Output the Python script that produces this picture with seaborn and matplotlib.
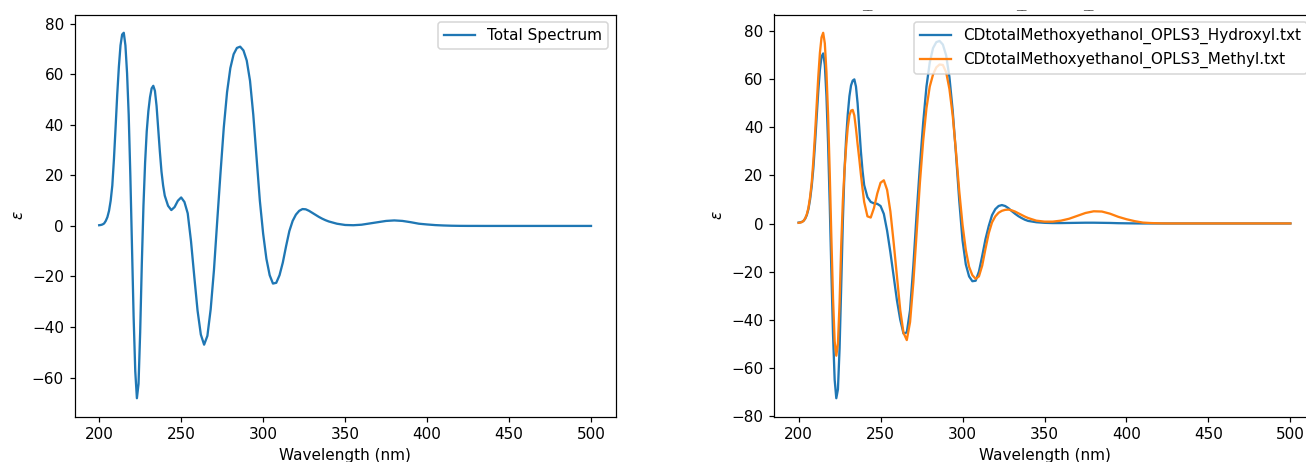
import numpy as np
import matplotlib
matplotlib.use("Agg")
import matplotlib.pyplot as plt
import seaborn as sns

# Wavelength grid (nm)
wavelength = (list(range(200, 241, 1)) + list(range(242, 341, 2)) + list(range(345, 501, 5)))

total_spectrum = [
    0.3, 0.4, 0.6, 1.0, 2.0, 3.5, 6.0, 10.0, 16.0, 26.5,
    39.0, 52.0, 63.0, 71.5, 75.8, 76.5, 71.5, 60.5, 44.0, 20.0,
    -8.0, -36.0, -57.5, -68.2, -62.5, -42.0, -15.0, 8.0, 25.0, 37.5,
    45.5, 51.0, 54.5, 55.5, 53.5, 47.5, 38.5, 29.5, 21.5, 16.0,
    12.0,
    8.0, 6.3, 7.5, 10.0, 11.3, 9.5, 5.0, -6.0, -20.0, -33.5,
    -43.0, -47.0, -43.5, -33.0, -17.5, 2.0, 21.0, 39.0, 53.0, 62.5,
    68.0, 70.5, 71.0, 69.5, 65.5, 57.5, 44.0, 27.0, 10.0, -3.0,
    -13.0, -19.5, -22.8, -22.5, -19.5, -14.5, -8.0, -2.0, 2.0, 4.5,
    6.0, 6.7, 6.6, 6.0, 5.2, 4.4, 3.6, 2.9, 2.3, 1.8,
    0.9, 0.4, 0.3, 0.5, 1.0, 1.5, 2.0, 2.2, 2.0, 1.5,
    0.9, 0.6, 0.35, 0.2, 0.1, 0.05, 0.03, 0.03, 0.02, 0.02,
    0.02, 0.02, 0.02, 0.02, 0.02, 0.02, 0.02, 0.02, 0.02, 0.02,
    0.02, 0.02,
]

hydroxyl = [
    0.4, 0.5, 0.7, 1.1, 2.0, 3.5, 6.0, 10.0, 15.5, 23.0,
    33.0, 44.0, 55.0, 64.0, 69.5, 70.8, 66.0, 53.0, 33.0, 8.0,
    -20.0, -46.0, -65.0, -72.7, -69.0, -52.0, -26.0, 1.0, 22.0, 35.5,
    45.5, 53.0, 57.5, 59.5, 60.0, 57.0, 50.0, 40.0, 30.0, 22.0,
    16.0,
    11.0, 9.0, 8.4, 8.2, 7.3, 4.0, -3.0, -12.0, -22.0, -32.0,
    -40.0, -45.8, -45.3, -36.0, -17.5, 4.0, 24.0, 42.0, 57.0, 67.0,
    73.0, 75.5, 76.0, 74.5, 70.0, 61.0, 47.0, 29.0, 9.5, -7.0,
    -17.0, -22.0, -24.0, -23.8, -20.0, -13.5, -6.5, -1.0, 3.5, 6.0,
    7.3, 7.7, 7.3, 6.4, 5.2, 4.1, 3.1, 2.3, 1.6, 1.1,
    0.55, 0.3, 0.2, 0.2, 0.25, 0.3, 0.35, 0.35, 0.3, 0.25,
    0.15, 0.1, 0.06, 0.03, 0.03, 0.03, 0.03, 0.03, 0.03, 0.03,
    0.03, 0.03, 0.03, 0.03, 0.03, 0.03, 0.03, 0.03, 0.03, 0.03,
    0.03, 0.03,
]

methyl = [
    0.3, 0.4, 0.6, 1.1, 2.1, 3.8, 6.5, 11.0, 17.0, 26.0,
    37.0, 49.0, 61.0, 71.0, 77.5, 79.4, 75.0, 63.0, 45.0, 21.0,
    -6.0, -31.0, -49.0, -55.0, -50.0, -33.0, -9.0, 9.5, 22.0, 32.0,
    40.0, 45.0, 47.0, 47.3, 45.0, 39.5, 33.0, 27.0, 20.5, 14.5,
    9.0,
    3.0, 2.5, 6.5, 12.5, 17.0, 18.0, 14.0, 5.0, -8.0, -22.0,
    -36.0, -45.5, -48.5, -41.0, -24.5, -4.0, 17.0, 34.5, 48.0, 57.0,
    62.0, 65.0, 66.2, 66.0, 63.0, 56.0, 45.0, 30.0, 13.5, -0.5,
    -11.0, -18.0, -21.5, -23.0, -22.0, -17.5, -10.5, -4.0, 0.5, 3.0,
    4.5, 5.3, 5.7, 5.8, 5.5, 5.0, 4.3, 3.6, 2.9, 2.3,
    1.2, 0.8, 0.8, 1.2, 2.0, 3.2, 4.4, 5.1, 5.0, 4.1,
    2.8, 1.8, 1.0, 0.4, 0.2, 0.1, 0.05, 0.05, 0.05, 0.05,
    0.05, 0.05, 0.05, 0.05, 0.05, 0.05, 0.05, 0.05, 0.05, 0.05,
    0.05, 0.05,
]

label_total = "Total Spectrum"
label_hydroxyl = "CDtotalMethoxyethanol_OPLS3_Hydroxyl.txt"
label_methyl = "CDtotalMethoxyethanol_OPLS3_Methyl.txt"
x_ticks = [200, 250, 300, 350, 400, 450, 500]
y_ticks_right = [-80, -60, -40, -20, 0, 20, 40, 60, 80]

W, H = 1306, 462
DPI = 110
fig = plt.figure(figsize=(W / DPI, H / DPI), dpi=DPI)

ax1 = fig.add_axes([74.6 / W, 1 - 416.5 / H, 541 / W, 402 / H])
ax2 = fig.add_axes([774 / W, 1 - 416.5 / H, 541 / W, 402 / H])

sns.lineplot(x=wavelength, y=total_spectrum, ax=ax1, color="C0", label=label_total)
sns.lineplot(x=wavelength, y=hydroxyl, ax=ax2, color="C0", label=label_hydroxyl)
sns.lineplot(x=wavelength, y=methyl, ax=ax2, color="C1", label=label_methyl)

for ax in (ax1, ax2):
    ax.set_xlabel("Wavelength (nm)")
    ax.set_ylabel(r"$\epsilon$")
    ax.set_xticks(x_ticks)
    ax.legend(loc="upper right")

ax2.set_yticks(y_ticks_right)

# remnants of a cropped title (only its underscores are visible)
for xp in (867, 1021, 1088):
    fig.text(xp / W, 1 - 1.0 / H, "__", ha="center", va="top",
             fontsize=6.8, color="0.35")

fig.savefig("out.png", dpi=DPI)
